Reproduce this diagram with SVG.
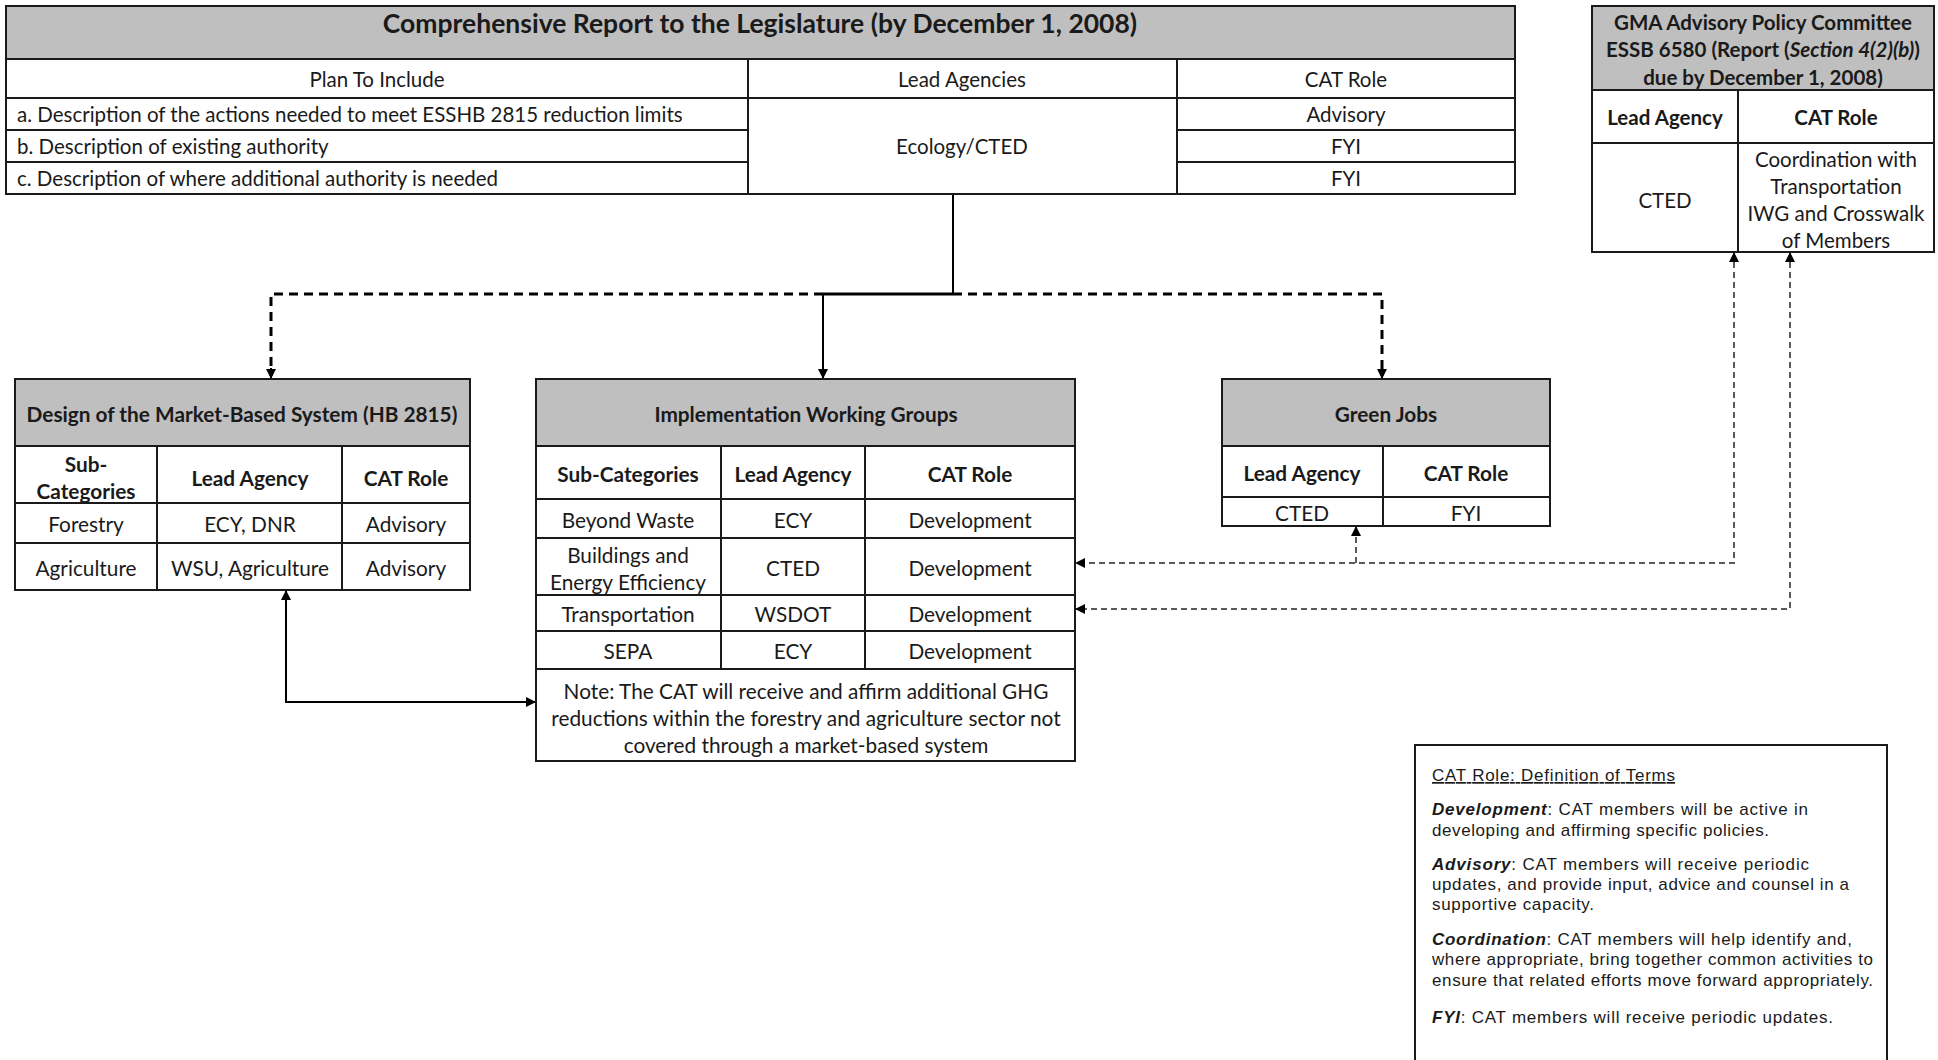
<svg xmlns="http://www.w3.org/2000/svg" width="1938" height="1060" viewBox="0 0 1938 1060">
<style>
.bg{fill:#ffffff}
.box{fill:#ffffff;stroke:#1a1a1a;stroke-width:2}
.hdr{fill:#bfbfbf;stroke:#1a1a1a;stroke-width:2}
.ln{stroke:#1a1a1a;stroke-width:2;fill:none}
text{font-family:Lato,"Open Sans","Liberation Sans",sans-serif;fill:#1a1a1a;dominant-baseline:central}
.c{text-anchor:middle}
.t{font-size:26.5px;font-weight:bold}
.h{font-size:20.8px;font-weight:bold}
.b{font-size:20.8px}
.s{font-size:20.5px}
.g{font-size:20.5px;font-weight:bold}
.lg{font-family:"Liberation Sans",Arial,sans-serif;font-size:17px;dominant-baseline:auto}
.bi{font-weight:bold;font-style:italic}
.solid{stroke:#000;stroke-width:2;fill:none}
.solid3{stroke:#000;stroke-width:3;fill:none}
.dashk{stroke:#000;stroke-width:3;fill:none;stroke-dasharray:9 6}
.dashg{stroke:#5a5a5a;stroke-width:2;fill:none;stroke-dasharray:6 4}
</style>
<defs>
<marker id="ah" viewBox="0 0 10 10" refX="10" refY="5" markerWidth="11" markerHeight="10" markerUnits="userSpaceOnUse" orient="auto-start-reverse">
<path d="M0,0 L10,5 L0,10 z" fill="#000"/>
</marker>
</defs>
<rect class="bg" x="0" y="0" width="1938" height="1060"/>

<g id="connectors">
<path class="solid" d="M953,194 V294"/>
<path class="solid3" d="M953,294 H823"/>
<path class="solid" d="M823,294 V379" marker-end="url(#ah)"/>
<path class="dashk" d="M823,294 H271 V376"/>
<path class="solid" d="M271,368 V379" marker-end="url(#ah)"/>
<path class="dashk" d="M953,294 H1382 V376"/>
<path class="solid" d="M1382,368 V379" marker-end="url(#ah)"/>
<path class="solid" d="M286,590 V702 H536" marker-start="url(#ah)" marker-end="url(#ah)"/>
<path class="dashg" d="M1734,252 V563 H1075" marker-start="url(#ah)" marker-end="url(#ah)"/>
<path class="dashg" d="M1356,563 V526" marker-end="url(#ah)"/>
<path class="dashg" d="M1790,252 V609 H1075" marker-start="url(#ah)" marker-end="url(#ah)"/>
</g>

<g id="report">
<rect class="box" x="6" y="6" width="1509" height="188"/>
<rect class="hdr" x="6" y="6" width="1509" height="53"/>
<path class="ln" d="M6,98 H1515 M6,130 H748 M1177,130 H1515 M6,162 H748 M1177,162 H1515 M748,59 V194 M1177,59 V194"/>
<text class="t c" x="760" y="23">Comprehensive Report to the Legislature (by December 1, 2008)</text>
<text class="s c" x="377" y="79">Plan To Include</text>
<text class="s c" x="962" y="79">Lead Agencies</text>
<text class="s c" x="1346" y="79">CAT Role</text>
<text class="s" x="17" y="114">a. Description of the actions needed to meet ESSHB 2815 reduction limits</text>
<text class="s" x="17" y="146">b. Description of existing authority</text>
<text class="s" x="17" y="178">c. Description of where additional authority is needed</text>
<text class="s c" x="962" y="146">Ecology/CTED</text>
<text class="s c" x="1346" y="114">Advisory</text>
<text class="s c" x="1346" y="146">FYI</text>
<text class="s c" x="1346" y="178">FYI</text>
</g>

<g id="gma">
<rect class="box" x="1592" y="6" width="342" height="246"/>
<rect class="hdr" x="1592" y="6" width="342" height="84"/>
<path class="ln" d="M1592,143 H1934 M1738,90 V252"/>
<text class="g c" x="1763" y="22">GMA Advisory Policy Committee</text>
<text class="g c" x="1763" y="49">ESSB 6580 (Report (<tspan font-style="italic">Section 4(2)(b)</tspan>)</text>
<text class="g c" x="1763" y="77">due by December 1, 2008)</text>
<text class="g c" x="1665" y="117">Lead Agency</text>
<text class="g c" x="1836" y="117">CAT Role</text>
<text class="s c" x="1665" y="200">CTED</text>
<text class="s c" x="1836" y="159">Coordination with</text>
<text class="s c" x="1836" y="186">Transportation</text>
<text class="s c" x="1836" y="213">IWG and Crosswalk</text>
<text class="s c" x="1836" y="240">of Members</text>
</g>

<g id="design">
<rect class="box" x="15" y="379" width="455" height="211"/>
<rect class="hdr" x="15" y="379" width="455" height="67"/>
<path class="ln" d="M15,503 H470 M15,543 H470 M157,446 V590 M342,446 V590"/>
<text class="h c" x="242" y="413">Design of the Market-Based System (HB 2815)</text>
<text class="h c" x="86" y="463">Sub-</text>
<text class="h c" x="86" y="490">Categories</text>
<text class="h c" x="250" y="477">Lead Agency</text>
<text class="h c" x="406" y="477">CAT Role</text>
<text class="b c" x="86" y="523">Forestry</text>
<text class="b c" x="250" y="523">ECY, DNR</text>
<text class="b c" x="406" y="523">Advisory</text>
<text class="b c" x="86" y="567">Agriculture</text>
<text class="b c" x="250" y="567">WSU, Agriculture</text>
<text class="b c" x="406" y="567">Advisory</text>
</g>

<g id="iwg">
<rect class="box" x="536" y="379" width="539" height="382"/>
<rect class="hdr" x="536" y="379" width="539" height="67"/>
<path class="ln" d="M536,499 H1075 M536,538 H1075 M536,595 H1075 M536,631 H1075 M536,669 H1075 M721,446 V669 M865,446 V669"/>
<text class="h c" x="806" y="413">Implementation Working Groups</text>
<text class="h c" x="628" y="473">Sub-Categories</text>
<text class="h c" x="793" y="473">Lead Agency</text>
<text class="h c" x="970" y="473">CAT Role</text>
<text class="b c" x="628" y="519">Beyond Waste</text>
<text class="b c" x="793" y="519">ECY</text>
<text class="b c" x="970" y="519">Development</text>
<text class="b c" x="628" y="554">Buildings and</text>
<text class="b c" x="628" y="581">Energy Efficiency</text>
<text class="b c" x="793" y="567">CTED</text>
<text class="b c" x="970" y="567">Development</text>
<text class="b c" x="628" y="613">Transportation</text>
<text class="b c" x="793" y="613">WSDOT</text>
<text class="b c" x="970" y="613">Development</text>
<text class="b c" x="628" y="650">SEPA</text>
<text class="b c" x="793" y="650">ECY</text>
<text class="b c" x="970" y="650">Development</text>
<text class="b c" x="806" y="690">Note: The CAT will receive and affirm additional GHG</text>
<text class="b c" x="806" y="717">reductions within the forestry and agriculture sector not</text>
<text class="b c" x="806" y="744">covered through a market-based system</text>
</g>

<g id="greenjobs">
<rect class="box" x="1222" y="379" width="328" height="147"/>
<rect class="hdr" x="1222" y="379" width="328" height="67"/>
<path class="ln" d="M1222,497 H1550 M1383,446 V526"/>
<text class="h c" x="1386" y="413">Green Jobs</text>
<text class="h c" x="1302" y="472">Lead Agency</text>
<text class="h c" x="1466" y="472">CAT Role</text>
<text class="b c" x="1302" y="512">CTED</text>
<text class="b c" x="1466" y="512">FYI</text>
</g>

<g id="legend">
<rect class="box" x="1415" y="745" width="472" height="330"/>
<text class="lg" x="1432" y="781" text-decoration="underline" textLength="243">CAT Role: Definition of Terms</text>
<text class="lg" x="1432" y="815" textLength="376"><tspan class="bi">Development</tspan>:  CAT members will be active in</text>
<text class="lg" x="1432" y="836" textLength="337">developing and affirming specific policies.</text>
<text class="lg" x="1432" y="870" textLength="377"><tspan class="bi">Advisory</tspan>:  CAT members will receive periodic</text>
<text class="lg" x="1432" y="890" textLength="417">updates, and provide input, advice and counsel in a</text>
<text class="lg" x="1432" y="910" textLength="162">supportive capacity.</text>
<text class="lg" x="1432" y="945" textLength="420"><tspan class="bi">Coordination</tspan>:  CAT members will help identify and,</text>
<text class="lg" x="1432" y="965" textLength="441">where appropriate, bring together common activities to</text>
<text class="lg" x="1432" y="986" textLength="441">ensure that related efforts move forward appropriately.</text>
<text class="lg" x="1432" y="1023" textLength="401"><tspan class="bi">FYI</tspan>:  CAT members will receive periodic updates.</text>
</g>
</svg>
